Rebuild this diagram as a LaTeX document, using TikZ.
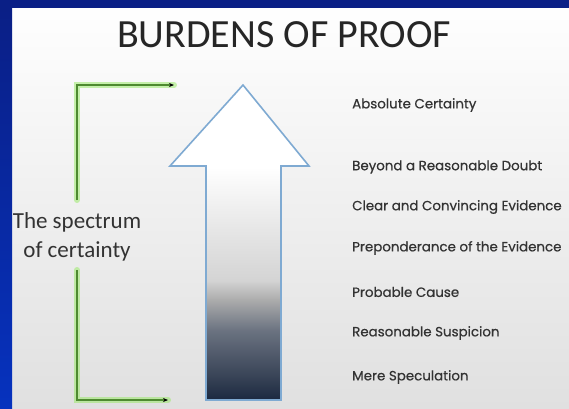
\documentclass[tikz,border=0pt]{standalone}
\usepackage{fontspec}
\usetikzlibrary{arrows.meta}
\newfontfamily\titlefont{Carlito}
\newfontfamily\labfont[FakeBold=0.6]{Poppins}
\definecolor{navy}{HTML}{0A1F86}
\definecolor{sideblue}{HTML}{0632BE}
\definecolor{bracketgreen}{HTML}{4E8A30}
\definecolor{glowgreen}{HTML}{9BEA6A}
\definecolor{arrowedge}{HTML}{7FAAD2}
\definecolor{labgray}{HTML}{333333}
\definecolor{bgbottom}{HTML}{E0E0E0}
\definecolor{sa}{HTML}{1B2940}
\definecolor{sb}{HTML}{3A4558}
\definecolor{sc}{HTML}{6A7280}
\definecolor{sd}{HTML}{ADADAD}
\definecolor{se}{HTML}{D4D4D4}
\definecolor{sf}{HTML}{E6E6E6}
\pgfdeclareverticalshading{arrowshade}{100bp}{%
  color(0bp)=(sa); color(25bp)=(sa); color(29bp)=(sb); color(36bp)=(sc);
  color(41bp)=(sd); color(44bp)=(se); color(52bp)=(sf);
  color(62bp)=(white); color(100bp)=(white)}
\tikzset{
  levellabel/.style={anchor=west, inner sep=0pt, text=labgray, font=\labfont\fontsize{13.4}{16}\selectfont},
  glowline/.style={line width=6pt, draw=glowgreen, opacity=0.55, line cap=round},
  bracketline/.style={line width=2pt, draw=bracketgreen, -{Stealth[length=5pt,width=4pt,black]}},
}
\begin{document}
\begin{tikzpicture}[x=1pt,y=-1pt]
\useasboundingbox (0,0) rectangle (569,408);
\clip (0,0) rectangle (569,408);
% background
\shade[top color=white, bottom color=bgbottom] (0,0) rectangle (569,408);
\fill[navy] (0,0) rectangle (569,8);
\shade[top color=navy, bottom color=sideblue] (0,8) rectangle (12,408);
% title
\node[font=\titlefont\fontsize{40}{44}\selectfont, text=black!85, inner sep=0pt] (title) at (284,35) {BURDENS OF PROOF};
% spectrum label
\node[font=\titlefont\fontsize{23}{29}\selectfont, text=labgray, align=center, inner sep=0pt] (spec) at (77,237) {The spectrum\\of certainty};
\coordinate (btop) at (77,200);
\coordinate (bbot) at (77,270);
\coordinate (ttop) at (174,85);
\coordinate (tbot) at (168,400);
\draw[glowline] (btop) |- (ttop);
\draw[glowline] (bbot) |- (tbot);
\draw[bracketline] (btop) |- (ttop);
\draw[bracketline] (bbot) |- (tbot);
% big arrow
\shade[shading=arrowshade, draw=arrowedge, line width=1.6pt, line join=miter]
  (243,85) -- (309,166) -- (281,166) -- (281,400) -- (206,400) -- (206,166) -- (170,166) -- cycle;
% labels
\node[levellabel] (l1) at (352,105) {Absolute Certainty};
\node[levellabel] (l2) at (352,167) {Beyond a Reasonable Doubt};
\node[levellabel] (l3) at (352,207) {Clear and Convincing Evidence};
\node[levellabel] (l4) at (352,248) {Preponderance of the Evidence};
\node[levellabel] (l5) at (352,292) {Probable Cause};
\node[levellabel] (l6) at (352,333) {Reasonable Suspicion};
\node[levellabel] (l7) at (352,377) {Mere Speculation};
\end{tikzpicture}
\end{document}
